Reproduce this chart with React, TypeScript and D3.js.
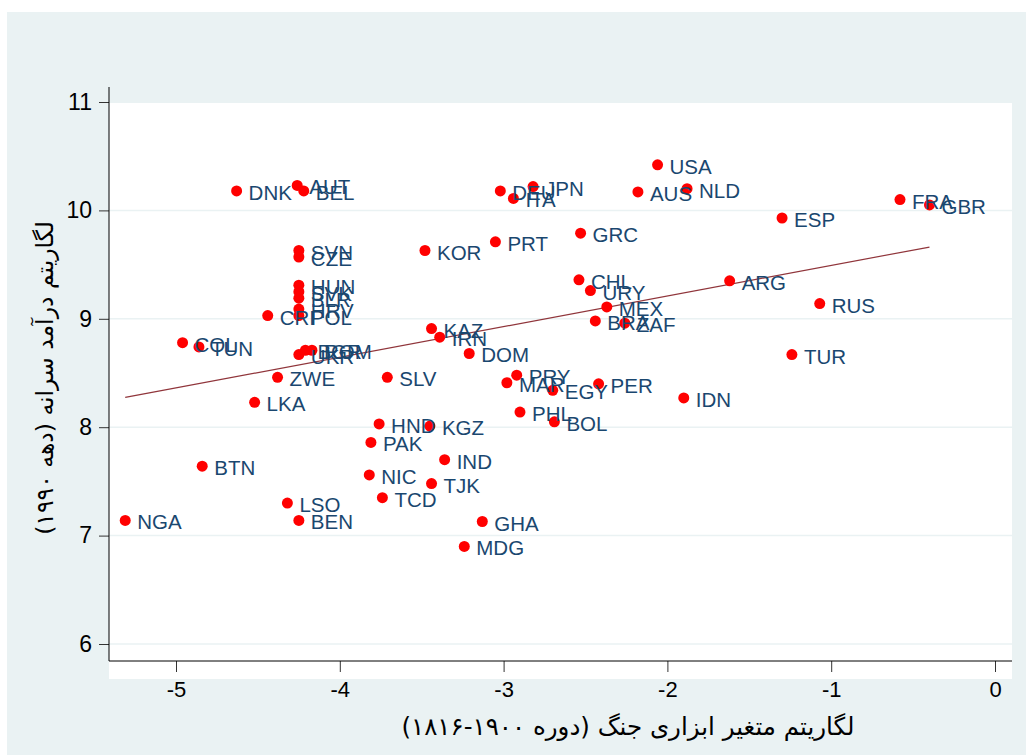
import { useEffect, useRef } from 'react';
import * as d3 from 'd3';

interface Country {
  code: string;
  war: number;
  income: number;
}

// ISO codes, log war instrument (1816-1900), log income per capita (1990s)
const codes = [
  'NGA', 'BTN', 'COL', 'TUN', 'LKA', 'DNK', 'AUT', 'BEL', 'SVN', 'CZE',
  'HUN', 'SVK', 'BLR', 'HRV', 'POL', 'CRI', 'UKR', 'BGR', 'ROM', 'ZWE',
  'KOR', 'DEU', 'JPN', 'ITA', 'PRT', 'GRC', 'USA', 'AUS', 'NLD', 'ESP',
  'FRA', 'GBR', 'CHL', 'URY', 'MEX', 'BRA', 'ZAF', 'ARG', 'RUS', 'TUR',
  'KAZ', 'IRN', 'DOM', 'SLV', 'PRY', 'MAR', 'EGY', 'PER', 'IDN', 'PHL',
  'BOL', 'HND', 'KGZ', 'PAK', 'IND', 'NIC', 'TJK', 'TCD', 'LSO', 'BEN',
  'GHA', 'MDG',
];
const warValues = [
  -5.31, -4.84, -4.96, -4.86, -4.52, -4.63, -4.26, -4.22, -4.25, -4.25,
  -4.25, -4.25, -4.25, -4.25, -4.25, -4.44, -4.25, -4.21, -4.17, -4.38,
  -3.48, -3.02, -2.82, -2.94, -3.05, -2.53, -2.06, -2.18, -1.88, -1.30,
  -0.58, -0.40, -2.54, -2.47, -2.37, -2.44, -2.26, -1.62, -1.07, -1.24,
  -3.44, -3.39, -3.21, -3.71, -2.92, -2.98, -2.70, -2.42, -1.90, -2.90,
  -2.69, -3.76, -3.45, -3.81, -3.36, -3.82, -3.44, -3.74, -4.32, -4.25,
  -3.13, -3.24,
];
const incomeValues = [
  7.14, 7.64, 8.78, 8.74, 8.23, 10.18, 10.23, 10.18, 9.63, 9.57,
  9.31, 9.25, 9.19, 9.09, 9.03, 9.03, 8.67, 8.71, 8.71, 8.46,
  9.63, 10.18, 10.22, 10.11, 9.71, 9.79, 10.42, 10.17, 10.20, 9.93,
  10.10, 10.05, 9.36, 9.26, 9.11, 8.98, 8.96, 9.35, 9.14, 8.67,
  8.91, 8.83, 8.68, 8.46, 8.48, 8.41, 8.34, 8.40, 8.27, 8.14,
  8.05, 8.03, 8.01, 7.86, 7.70, 7.56, 7.48, 7.35, 7.30, 7.14,
  7.13, 6.90,
];

const xTicks = [-5, -4, -3, -2, -1, 0];
const yTicks = [6, 7, 8, 9, 10, 11];

const xTitle = 'لگاریتم متغیر ابزاری جنگ (دوره ۱۹۰۰-۱۸۱۶)';
const yTitle = 'لگاریتم درآمد سرانه (دهه ۱۹۹۰)';

const data: Country[] = codes.map((code, i) => ({
  code,
  war: warValues[i],
  income: incomeValues[i],
}));

const W = 1026;
const H = 756;

export default function App() {
  const svgRef = useRef<SVGSVGElement>(null);

  useEffect(() => {
    if (!svgRef.current) return;
    const svg = d3.select(svgRef.current);
    svg.selectAll('*').remove();

    // plot region (Stata-like layout)
    const plot = { left: 109, right: 1012, top: 103, bottom: 679 };
    const axisY = 661;

    const x = d3.scaleLinear().domain([-5, 0]).range([176, 995]);
    const y = d3.scaleLinear().domain([6, 11]).range([644, 102]);

    // backgrounds
    svg.append('rect')
      .attr('x', 7).attr('y', 12)
      .attr('width', W - 7).attr('height', 743)
      .attr('fill', '#eaf2f3');

    svg.append('rect')
      .attr('x', plot.left).attr('y', plot.top)
      .attr('width', plot.right - plot.left)
      .attr('height', plot.bottom - plot.top)
      .attr('fill', '#ffffff');

    // grid lines
    svg.append('g')
      .selectAll('line')
      .data(yTicks.filter(t => t < 11))
      .join('line')
      .attr('x1', plot.left).attr('x2', plot.right)
      .attr('y1', d => y(d)).attr('y2', d => y(d))
      .attr('stroke', '#eaf2f3')
      .attr('stroke-width', 1.5);

    // axes
    const yAxis = d3.axisLeft(y)
      .tickValues(yTicks)
      .tickSize(10)
      .tickPadding(7)
      .tickFormat(d3.format('d') as any);
    const gy = svg.append('g')
      .attr('transform', `translate(${plot.left},0)`)
      .call(yAxis);
    gy.select('.domain').remove();
    gy.selectAll('.tick line').attr('stroke', '#333');
    gy.selectAll('.tick text')
      .attr('fill', '#000')
      .attr('font-size', 23)
      .attr('font-family', 'Liberation Sans, Arial, sans-serif');

    const xAxis = d3.axisBottom(x)
      .tickValues(xTicks)
      .tickSize(11)
      .tickPadding(9)
      .tickFormat(d => `${d}`);
    const gx = svg.append('g')
      .attr('transform', `translate(0,${axisY})`)
      .call(xAxis);
    gx.select('.domain').remove();
    gx.selectAll('.tick line').attr('stroke', '#333');
    gx.selectAll('.tick text')
      .attr('fill', '#000')
      .attr('font-size', 22)
      .attr('font-family', 'Liberation Sans, Arial, sans-serif');

    svg.append('line')
      .attr('x1', plot.left).attr('x2', plot.left)
      .attr('y1', 87).attr('y2', axisY)
      .attr('stroke', '#000').attr('stroke-width', 1);
    svg.append('line')
      .attr('x1', plot.left).attr('x2', plot.right)
      .attr('y1', axisY).attr('y2', axisY)
      .attr('stroke', '#000').attr('stroke-width', 1);

    // OLS fit line
    const mx = d3.mean(data, d => d.war) as number;
    const my = d3.mean(data, d => d.income) as number;
    const sxy = d3.sum(data, d => (d.war - mx) * (d.income - my));
    const sxx = d3.sum(data, d => (d.war - mx) ** 2);
    const slope = sxy / sxx;
    const intercept = my - slope * mx;
    const [xmin, xmax] = d3.extent(data, d => d.war) as [number, number];

    const fitLine = d3.line<number>()
      .x(d => x(d))
      .y(d => y(intercept + slope * d));

    svg.append('path')
      .datum([xmin, xmax])
      .attr('d', fitLine)
      .attr('fill', 'none')
      .attr('stroke', '#90353b')
      .attr('stroke-width', 1.2);

    // points
    svg.append('g')
      .selectAll('circle')
      .data(data)
      .join('circle')
      .attr('cx', d => x(d.war))
      .attr('cy', d => y(d.income))
      .attr('r', 5.5)
      .attr('fill', '#ff0000');

    // labels
    svg.append('g')
      .selectAll('text')
      .data(data)
      .join('text')
      .attr('x', d => x(d.war) + 12)
      .attr('y', d => y(d.income) + 9)
      .attr('fill', '#1a476f')
      .attr('font-size', 20.5)
      .attr('font-family', 'Liberation Sans, Arial, sans-serif')
      .text(d => d.code);

    // titles
    svg.append('text')
      .attr('x', 628)
      .attr('y', 735)
      .attr('text-anchor', 'middle')
      .attr('direction', 'rtl')
      .attr('font-size', 24.5)
      .attr('font-family', 'DejaVu Sans, sans-serif')
      .attr('fill', '#000')
      .text(xTitle);

    svg.append('text')
      .attr('transform', `translate(53,378) rotate(-90)`)
      .attr('text-anchor', 'middle')
      .attr('direction', 'rtl')
      .attr('font-size', 23.5)
      .attr('font-family', 'DejaVu Sans, sans-serif')
      .attr('fill', '#000')
      .text(yTitle);
  }, []);

  return (
    <div style={{ position: 'fixed', left: 0, top: 0, width: W, height: H, background: '#fff' }}>
      <svg ref={svgRef} width={W} height={H} style={{ display: 'block' }} />
    </div>
  );
}
